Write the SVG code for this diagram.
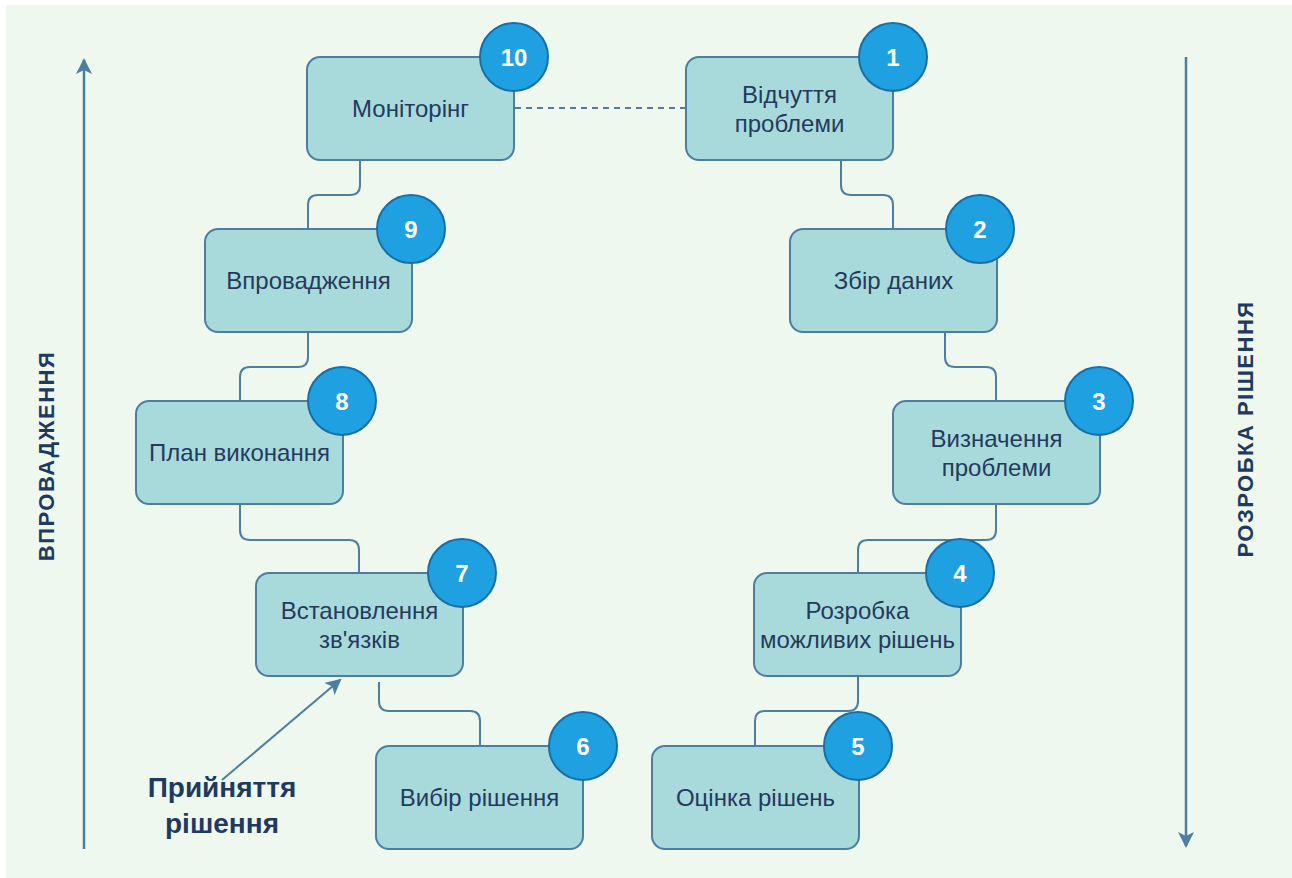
<svg xmlns="http://www.w3.org/2000/svg" width="1292" height="878" viewBox="0 0 1292 878">
  <style>
    .box { fill: #a8dadc; stroke: #4d7ea2; stroke-width: 2; }
    .badge { fill: #1ea0e1; stroke: #1a6ea6; stroke-width: 2; }
    .num { font-family: "Liberation Sans", Arial, sans-serif; font-size: 24px; font-weight: bold; fill: #ffffff; text-anchor: middle; }
    .lbl { font-family: "Liberation Sans", Arial, sans-serif; font-size: 24px; fill: #243a5c; text-anchor: middle; }
    .side { font-family: "Liberation Sans", Arial, sans-serif; font-size: 22px; font-weight: bold; fill: #1f3a5f; text-anchor: middle; letter-spacing: 1.5px; }
    .note { font-family: "Liberation Sans", Arial, sans-serif; font-size: 28px; font-weight: bold; fill: #1f3a5f; text-anchor: middle; }
    .link { fill: none; stroke: #4d7ea2; stroke-width: 2; }
    .axis { fill: none; stroke: #4d7ea2; stroke-width: 2.5; }
  </style>
  <defs>
    <marker id="head" viewBox="0 0 16 16" refX="14" refY="8" markerWidth="16" markerHeight="16" markerUnits="userSpaceOnUse" orient="auto">
      <path d="M0 0 L16 8 L0 16 L4 8 Z" fill="#4d7ea2"/>
    </marker>
  </defs>

  <rect x="6" y="5" width="1286" height="873" fill="#eff8ef"/>

  <!-- side axes -->
  <g id="axes">
    <line class="axis" x1="84" y1="849" x2="84" y2="60" marker-end="url(#head)"/>
    <line class="axis" x1="1186" y1="57" x2="1186" y2="846" marker-end="url(#head)"/>
    <text class="side" transform="translate(54 456) rotate(-90)">ВПРОВАДЖЕННЯ</text>
    <text class="side" transform="translate(1253 429) rotate(-90)">РОЗРОБКА РІШЕННЯ</text>
  </g>

  <!-- connectors -->
  <g id="connectors">
    <line class="link" x1="515" y1="108" x2="686" y2="108" stroke-dasharray="6 5"/>
    <path class="link" d="M360 161 V185 Q360 195 350 195 H318 Q308 195 308 205 V229"/>
    <path class="link" d="M308 333 V357 Q308 367 298 367 H250 Q240 367 240 377 V401"/>
    <path class="link" d="M240 505 V530 Q240 540 250 540 H349 Q359 540 359 550 V573"/>
    <path class="link" d="M379 682 V701 Q379 711 389 711 H470 Q480 711 480 721 V746"/>
    <path class="link" d="M841 161 V185 Q841 195 851 195 H883 Q893 195 893 205 V229"/>
    <path class="link" d="M945 333 V357 Q945 367 955 367 H986 Q996 367 996 377 V401"/>
    <path class="link" d="M996 505 V530 Q996 540 986 540 H868 Q858 540 858 550 V573"/>
    <path class="link" d="M858 677 V701 Q858 711 848 711 H765 Q755 711 755 721 V746"/>
    <line class="link" x1="222" y1="780" x2="340" y2="680" marker-end="url(#head)"/>
  </g>

  <g id="n1">
    <rect class="box" x="686" y="57" width="207" height="103" rx="13"/>
    <text class="lbl" x="789.5" y="103">Відчуття</text>
    <text class="lbl" x="789.5" y="132">проблеми</text>
    <circle class="badge" cx="893" cy="57" r="34"/>
    <text class="num" x="893" y="66">1</text>
  </g>
  <g id="n2">
    <rect class="box" x="790" y="229" width="207" height="103" rx="13"/>
    <text class="lbl" x="893.5" y="289">Збір даних</text>
    <circle class="badge" cx="980" cy="229" r="34"/>
    <text class="num" x="980" y="238">2</text>
  </g>
  <g id="n3">
    <rect class="box" x="893" y="401" width="207" height="103" rx="13"/>
    <text class="lbl" x="996.5" y="447">Визначення</text>
    <text class="lbl" x="996.5" y="476">проблеми</text>
    <circle class="badge" cx="1099" cy="401" r="34"/>
    <text class="num" x="1099" y="410">3</text>
  </g>
  <g id="n4">
    <rect class="box" x="754" y="573" width="207" height="103" rx="13"/>
    <text class="lbl" x="857.5" y="619">Розробка</text>
    <text class="lbl" x="857.5" y="648">можливих рішень</text>
    <circle class="badge" cx="960" cy="573" r="34"/>
    <text class="num" x="960" y="582">4</text>
  </g>
  <g id="n5">
    <rect class="box" x="652" y="746" width="207" height="103" rx="13"/>
    <text class="lbl" x="755.5" y="806">Оцінка рішень</text>
    <circle class="badge" cx="858" cy="746" r="34"/>
    <text class="num" x="858" y="755">5</text>
  </g>
  <g id="n6">
    <rect class="box" x="376" y="746" width="207" height="103" rx="13"/>
    <text class="lbl" x="479.5" y="806">Вибір рішення</text>
    <circle class="badge" cx="583" cy="746" r="34"/>
    <text class="num" x="583" y="755">6</text>
  </g>
  <g id="n7">
    <rect class="box" x="256" y="573" width="207" height="103" rx="13"/>
    <text class="lbl" x="359.5" y="619">Встановлення</text>
    <text class="lbl" x="359.5" y="648">зв'язків</text>
    <circle class="badge" cx="462" cy="573" r="34"/>
    <text class="num" x="462" y="582">7</text>
  </g>
  <g id="n8">
    <rect class="box" x="136" y="401" width="207" height="103" rx="13"/>
    <text class="lbl" x="239.5" y="461">План виконання</text>
    <circle class="badge" cx="342" cy="401" r="34"/>
    <text class="num" x="342" y="410">8</text>
  </g>
  <g id="n9">
    <rect class="box" x="205" y="229" width="207" height="103" rx="13"/>
    <text class="lbl" x="308.5" y="289">Впровадження</text>
    <circle class="badge" cx="411" cy="229" r="34"/>
    <text class="num" x="411" y="238">9</text>
  </g>
  <g id="n10">
    <rect class="box" x="307" y="57" width="207" height="103" rx="13"/>
    <text class="lbl" x="410.5" y="117">Моніторінг</text>
    <circle class="badge" cx="514" cy="57" r="34"/>
    <text class="num" x="514" y="66">10</text>
  </g>

  <g id="decision-note">
    <text class="note" x="222" y="797">Прийняття</text>
    <text class="note" x="222" y="833">рішення</text>
  </g>
</svg>
